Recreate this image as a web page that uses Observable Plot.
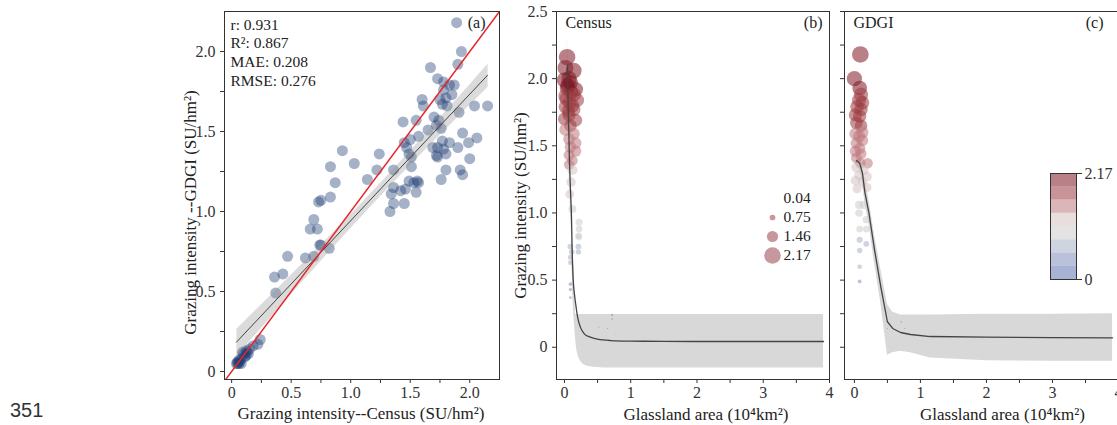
<!DOCTYPE html>
<html><head><meta charset="utf-8">
<script src="https://cdn.jsdelivr.net/npm/d3@7"></script>
<script src="https://cdn.jsdelivr.net/npm/@observablehq/plot@0.6"></script>
<style>
body{margin:0;background:#fff;}
#wrap{position:relative;width:1117px;height:425px;overflow:hidden;background:#fff;}
#wrap svg{position:absolute;background:transparent;max-width:none;overflow:visible;}
#pageno{position:absolute;left:10px;top:398px;font:20px "Liberation Sans",sans-serif;color:#333;line-height:24px;}
</style></head><body><div id="wrap"><div id="pageno"></div></div>
<script>
// ---------- data ----------
const pageNumber = "351";
// panel (a): census vs GDGI grazing intensity
const censusA = [1.89,1.93,1.90,1.67,1.73,1.78,1.83,1.87,1.85,1.78,1.80,1.75,1.77,1.81,1.60,1.61,2.04,2.15,1.91,1.44,1.55,1.70,1.74,1.72,1.76,1.65,1.57,1.94,2.06,1.50,1.45,1.77,1.83,1.99,1.90,1.69,1.73,1.78,1.80,1.72,1.73,1.47,1.49,1.51,2.00,0.93,1.24,1.03,0.83,1.22,1.80,1.92,1.36,1.51,1.94,1.76,1.14,0.87,1.49,1.56,1.57,1.53,1.36,1.42,1.46,1.55,1.34,0.83,0.73,0.75,1.36,1.45,1.33,0.69,0.66,0.72,0.74,0.75,0.82,0.47,0.62,0.69,0.36,0.43,0.37,0.24,0.22,0.18,0.15,0.13,0.12,0.10,0.14,0.11,0.08,0.09,0.07,0.06,0.05,0.05,0.04,0.08,0.06,0.12];
const gdgiA   = [2.18,2.00,1.92,1.90,1.83,1.81,1.79,1.79,1.73,1.76,1.71,1.70,1.67,1.66,1.70,1.66,1.66,1.66,1.62,1.56,1.57,1.59,1.57,1.54,1.52,1.51,1.47,1.49,1.46,1.45,1.43,1.44,1.43,1.43,1.40,1.40,1.40,1.39,1.36,1.35,1.34,1.40,1.36,1.34,1.33,1.38,1.36,1.30,1.28,1.26,1.26,1.26,1.26,1.28,1.23,1.20,1.20,1.18,1.19,1.19,1.18,1.18,1.15,1.13,1.14,1.12,1.11,1.09,1.06,1.07,1.05,1.05,1.00,0.95,0.89,0.89,0.79,0.79,0.77,0.72,0.71,0.72,0.59,0.61,0.49,0.20,0.17,0.16,0.14,0.12,0.13,0.11,0.11,0.09,0.08,0.12,0.06,0.05,0.05,0.06,0.05,0.05,0.07,0.10];
const statsLabels = ["r: 0.931","R²: 0.867","MAE: 0.208","RMSE: 0.276"];
const diagonal = [-0.1, 2.4];

// panel (b): Census intensity vs grassland area
const areaB  = [0.04,0.14,0.015,0.07,0.0,0.09,0.04,0.17,0.14,0.015,0.19,0.08,0.015,0.14,0.07,0.0,0.17,0.09,0.015,0.14,0.07,0.17,0.09,0.17,0.07,0.12,0.07,0.12,0.10,0.08,0.12,0.22,0.22,0.21,0.22,0.09,0.21,0.11,0.21,0.09,0.09,0.09,0.09,0.09,0.52,0.65,0.72,0.72,0.77,1.20,0.05,0.10,0.03,0.12,0.06];
const valueB = [2.16,2.06,2.08,2.00,1.99,1.97,1.93,1.92,1.88,1.87,1.84,1.82,1.79,1.77,1.73,1.70,1.69,1.65,1.62,1.59,1.55,1.52,1.49,1.46,1.43,1.39,1.36,1.32,1.23,1.14,1.03,0.93,0.88,0.83,0.82,0.75,0.75,0.71,0.71,0.67,0.63,0.47,0.43,0.37,0.15,0.14,0.24,0.21,0.10,0.07,1.95,1.90,1.85,1.80,1.76];
const fitBx  = [0.045,0.06,0.08,0.095,0.106,0.115,0.13,0.15,0.17,0.2,0.24,0.3,0.39,0.5,0.7,1.0,1.5,2.0,3.0,3.91];
const fitBy  = [2.10,1.72,1.32,1.12,0.98,0.75,0.52,0.40,0.32,0.22,0.15,0.10,0.075,0.06,0.05,0.046,0.044,0.043,0.043,0.043];
const fitBlo = [1.90,1.55,1.18,0.98,0.85,0.60,0.35,0.18,0.05,-0.05,-0.10,-0.13,-0.145,-0.15,-0.155,-0.155,-0.155,-0.155,-0.155,-0.155];
const fitBhi = [2.33,1.90,1.46,1.26,1.10,0.90,0.68,0.55,0.244,0.244,0.244,0.244,0.244,0.244,0.244,0.244,0.244,0.244,0.244,0.244];

// panel (c): GDGI intensity vs grassland area
const areaC  = [0.09,0.0,0.08,0.10,0.07,0.12,0.04,0.10,0.015,0.08,0.03,0.10,0.12,0.015,0.07,0.12,0.03,0.08,0.015,0.10,0.03,0.20,0.09,0.03,0.14,0.07,0.19,0.015,0.12,0.19,0.04,0.07,0.14,0.07,0.18,0.08,0.18,0.08,0.18,0.08,0.08,0.08,0.50,0.71,0.76];
const valueC = [2.18,2.00,1.93,1.88,1.84,1.82,1.79,1.77,1.73,1.72,1.67,1.65,1.60,1.59,1.57,1.54,1.52,1.48,1.46,1.44,1.41,1.37,1.37,1.34,1.32,1.28,1.27,1.24,1.23,1.19,1.18,1.06,1.06,1.00,0.95,0.88,0.88,0.80,0.77,0.72,0.60,0.49,0.14,0.19,0.14];
const fitCx  = [0.03,0.08,0.12,0.16,0.22,0.3,0.4,0.5,0.58,0.7,0.85,1.15,2.0,3.0,3.91];
const fitCy  = [1.39,1.37,1.30,1.15,1.00,0.74,0.45,0.19,0.14,0.11,0.095,0.08,0.075,0.072,0.07];
const fitClo = [1.36,1.33,1.24,1.07,0.92,0.64,0.33,-0.06,-0.04,-0.03,-0.04,-0.08,-0.10,-0.105,-0.105];
const fitChi = [1.42,1.41,1.36,1.24,1.10,0.85,0.58,0.32,0.26,0.24,0.24,0.24,0.245,0.245,0.25];

// legends and axes
const sizeLegendValues = [0.04, 0.75, 1.46, 2.17];
const colorLegendTicks = [0, 2.17];
const palette = ["#5c75b1","#8090bc","#a8b1c8","#cccccc","#d5c3c3","#be787e","#9d3d42","#801825"];
const ticksA = [0, 0.5, 1, 1.5, 2];
const minorA = [0.25, 0.75, 1.25, 1.75];
const xTicksB = [0, 1, 2, 3, 4];
const xMinorB = [0.5, 1.5, 2.5, 3.5];
const yTicksB = [0, 0.5, 1, 1.5, 2, 2.5];
const yMinorB = [0.25, 0.75, 1.25, 1.75, 2.25];
const xLabelA = "Grazing intensity--Census (SU/hm²)";
const yLabelA = "Grazing intensity --GDGI (SU/hm²)";
const yLabelB = "Grazing intensity (SU/hm²)";
const xLabelB = "Glassland area (10⁴km²)";

// ---------- drawing ----------
const wrap = document.getElementById("wrap");
document.getElementById("pageno").textContent = pageNumber;
const serif = '"Liberation Serif","Times New Roman",serif';
const baseStyle = {fontFamily: serif, fontSize: "16px", color: "#333", background: "transparent", overflow: "visible"};
const fmt1 = d => d === 0 ? "0" : d.toFixed(1);
const none = () => "";
const vmax = 2.17;
const colorScale = {type: "threshold", domain: d3.range(1, 8).map(i => i * vmax / 8), range: palette};
const rScale = {type: "linear", domain: [0, vmax], range: [0, 8.3]};
function place(svg, left, top) { svg.style.left = left + "px"; svg.style.top = top + "px"; wrap.appendChild(svg); }

// (a)
const ptsA = censusA.map((c, i) => ({census: c, gdgi: gdgiA[i]}));
place(Plot.plot({
  width: 360, height: 425, marginLeft: 74, marginRight: 11, marginTop: 11, marginBottom: 46,
  style: baseStyle,
  x: {domain: [-0.06, 2.25]}, y: {domain: [-0.05, 2.25]},
  marks: [
    Plot.axisX(ticksA, {tickSize: 4, tickPadding: 3, tickFormat: fmt1, label: null, stroke: "#333"}),
    Plot.axisX(minorA, {tickSize: 4, tickFormat: none, label: null, stroke: "#333"}),
    Plot.axisY(ticksA, {tickSize: 4, tickPadding: 5, tickFormat: fmt1, label: null, stroke: "#333"}),
    Plot.axisY(minorA, {tickSize: 4, tickFormat: none, label: null, stroke: "#333"}),
    Plot.dot(ptsA, {x: "census", y: "gdgi", r: 5.5, fill: "#1f3d72", fillOpacity: 0.4}),
    Plot.linearRegressionY(ptsA, {x: "census", y: "gdgi", stroke: "#444", strokeWidth: 1, fill: "#999", fillOpacity: 0.35}),
    Plot.line(diagonal, {x: d => d, y: d => d, clip: true, stroke: "#e8262b", strokeWidth: 1.5}),
    Plot.frame({stroke: "#333"}),
    Plot.text([statsLabels.join("\n")], {frameAnchor: "top-left", lineAnchor: "top", textAnchor: "start", dx: 6, dy: 5, fontSize: 15.5, lineHeight: 1.2, fill: "#222"}),
    Plot.text(["(a)"], {frameAnchor: "top-right", lineAnchor: "top", textAnchor: "end", dx: -14, dy: 5, fontSize: 16, fill: "#222"}),
    Plot.text([xLabelA], {frameAnchor: "bottom", lineAnchor: "middle", textAnchor: "middle", dy: 34, dx: -1, fontSize: 17, fill: "#222"}),
    Plot.text([yLabelA], {frameAnchor: "left", rotate: -90, textAnchor: "middle", lineAnchor: "middle", dx: -34, dy: 17, fontSize: 17, fill: "#222"})
  ]
}), 150, 0);

// (b)
const ptsB = areaB.map((a, i) => ({area: a, value: valueB[i]}));
const fitB = fitBx.map((x, i) => ({x, y: fitBy[i], lo: fitBlo[i], hi: fitBhi[i]}));
place(Plot.plot({
  width: 335, height: 425, marginLeft: 56, marginRight: 6, marginTop: 11, marginBottom: 46,
  style: baseStyle,
  x: {domain: [-0.12, 4]}, y: {domain: [-0.24, 2.5]}, color: colorScale, r: rScale,
  marks: [
    Plot.axisX(xTicksB, {tickSize: 4, tickPadding: 3, tickFormat: d => String(d), label: null, stroke: "#333"}),
    Plot.axisX(xMinorB, {tickSize: 4, tickFormat: none, label: null, stroke: "#333"}),
    Plot.axisY(yTicksB, {tickSize: 4, tickPadding: 5, tickFormat: fmt1, label: null, stroke: "#333"}),
    Plot.axisY(yMinorB, {tickSize: 4, tickFormat: none, label: null, stroke: "#333"}),
    Plot.areaY(fitB, {x: "x", y1: "lo", y2: "hi", fill: "#d4d4d4", fillOpacity: 0.9, curve: "monotone-x"}),
    Plot.dot(ptsB, {x: "area", y: "value", r: "value", fill: "value", fillOpacity: 0.55}),
    Plot.line(fitB, {x: "x", y: "y", stroke: "#444", strokeWidth: 1.3, curve: "monotone-x"}),
    Plot.frame({stroke: "#333"}),
    Plot.text(["Census"], {frameAnchor: "top-left", lineAnchor: "top", textAnchor: "start", dx: 9, dy: 5, fontSize: 16, fill: "#222"}),
    Plot.text(["(b)"], {frameAnchor: "top-right", lineAnchor: "top", textAnchor: "end", dx: -7, dy: 5, fontSize: 16, fill: "#222"}),
    Plot.text([xLabelB], {frameAnchor: "bottom", lineAnchor: "middle", textAnchor: "middle", dy: 35, dx: 13, fontSize: 17, fill: "#222"}),
    Plot.text([yLabelB], {frameAnchor: "left", rotate: -90, textAnchor: "middle", lineAnchor: "middle", dx: -36, dy: 10, fontSize: 17, fill: "#222"})
  ]
}), 500, 0);

// size legend (in panel b)
place(Plot.plot({
  width: 80, height: 90, margin: 0, style: baseStyle,
  y: {type: "point", domain: sizeLegendValues.map(String), range: [17, 76], padding: 0, axis: null}, r: rScale,
  marks: [
    Plot.dot(sizeLegendValues, {y: d => String(d), r: d => d, frameAnchor: "left", dx: 22, fill: palette[7], fillOpacity: 0.45}),
    Plot.text(sizeLegendValues, {y: d => String(d), text: d => d.toFixed(2), frameAnchor: "left", dx: 33, textAnchor: "start", fontSize: 15.5, fill: "#222"})
  ]
}), 750, 180);

// (c)
const ptsC = areaC.map((a, i) => ({area: a, value: valueC[i]}));
const fitC = fitCx.map((x, i) => ({x, y: fitCy[i], lo: fitClo[i], hi: fitChi[i]}));
place(Plot.plot({
  width: 290, height: 425, marginLeft: 8, marginRight: 8, marginTop: 11, marginBottom: 46,
  style: baseStyle,
  x: {domain: [-0.15, 4]}, y: {domain: [-0.24, 2.5]}, color: colorScale, r: rScale,
  marks: [
    Plot.axisX(xTicksB, {tickSize: 4, tickPadding: 3, tickFormat: d => String(d), label: null, stroke: "#333"}),
    Plot.axisX(xMinorB, {tickSize: 4, tickFormat: none, label: null, stroke: "#333"}),
    Plot.axisY(yTicksB, {tickSize: 4, tickFormat: none, label: null, stroke: "#333"}),
    Plot.axisY(yMinorB, {tickSize: 4, tickFormat: none, label: null, stroke: "#333"}),
    Plot.areaY(fitC, {x: "x", y1: "lo", y2: "hi", fill: "#d4d4d4", fillOpacity: 0.9}),
    Plot.dot(ptsC, {x: "area", y: "value", r: "value", fill: "value", fillOpacity: 0.55}),
    Plot.line(fitC, {x: "x", y: "y", stroke: "#444", strokeWidth: 1.3}),
    Plot.frame({stroke: "#333"}),
    Plot.text(["GDGI"], {frameAnchor: "top-left", lineAnchor: "top", textAnchor: "start", dx: 9, dy: 5, fontSize: 16, fill: "#222"}),
    Plot.text(["(c)"], {frameAnchor: "top-right", lineAnchor: "top", textAnchor: "end", dx: -15, dy: 5, fontSize: 16, fill: "#222"}),
    Plot.text([xLabelB], {frameAnchor: "bottom", lineAnchor: "middle", textAnchor: "middle", dy: 35, dx: 21, fontSize: 17, fill: "#222"})
  ]
}), 836, 0);

// color legend (in panel c)
const bins = d3.range(8).map(i => ({y1: i * vmax / 8, y2: (i + 1) * vmax / 8, mid: (i + 0.5) * vmax / 8}));
place(Plot.plot({
  width: 80, height: 130, marginLeft: 10, marginRight: 44, marginTop: 13, marginBottom: 11,
  style: baseStyle,
  x: {domain: [0, 1], axis: null}, y: {domain: [0, vmax]}, color: colorScale,
  marks: [
    Plot.rect(bins, {x1: d => 0, x2: d => 1, y1: "y1", y2: "y2", fill: "mid", fillOpacity: 0.55}),
    Plot.frame({stroke: "#333"}),
    Plot.axisY(colorLegendTicks, {anchor: "right", tickSize: 5, tickPadding: 3, tickFormat: d => d === 0 ? "0" : String(d), label: null, stroke: "#333", fontSize: 16})
  ]
}), 1040, 160);
</script></body></html>
